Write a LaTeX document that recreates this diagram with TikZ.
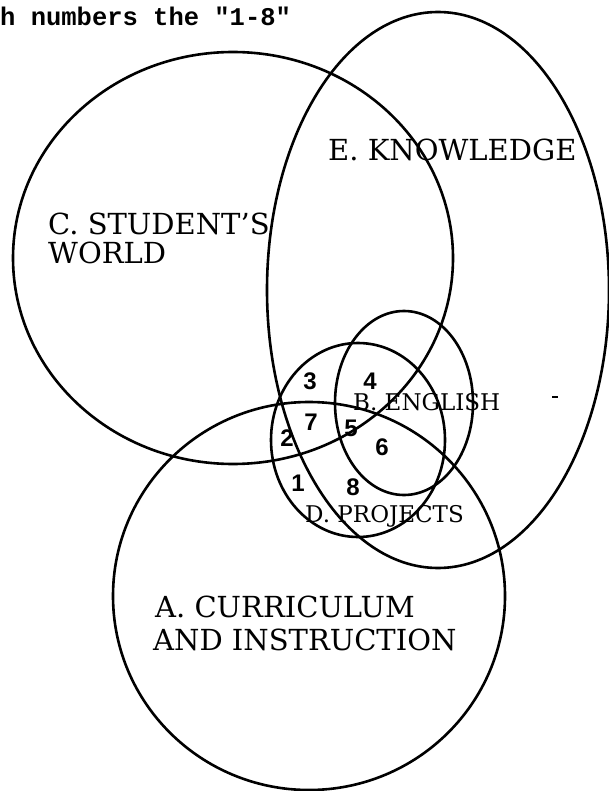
\documentclass[tikz,border=0pt]{standalone}
\usepackage{fontspec}
\setmainfont{DejaVu Serif}
\newfontfamily\numfont{Liberation Sans}
\newfontfamily\typefont{Liberation Mono}
\begin{document}
\begin{tikzpicture}[x=1pt,y=-1pt,
  setline/.style={line width=2.6pt,black},
  biglabel/.style={anchor=base west,inner sep=0pt,font=\fontsize{29}{30}\selectfont},
  midlabel/.style={anchor=base west,inner sep=0pt,font=\fontsize{23}{24}\selectfont},
  numlabel/.style={anchor=center,inner sep=0pt,font=\numfont\bfseries\fontsize{24}{24}\selectfont},
  toptext/.style={anchor=base west,inner sep=0pt,font=\typefont\bfseries\fontsize{25.5}{26}\selectfont}]
\useasboundingbox (0,0) rectangle (609,791);
\clip (0,0) rectangle (609,791);
\fill[white] (0,0) rectangle (609,791);
% sets
\draw[setline] (233,258) ellipse [x radius=220pt, y radius=206pt]; % C
\draw[setline] (438,290) ellipse [x radius=171pt, y radius=278pt]; % E
\draw[setline] (309,596) ellipse [x radius=196pt, y radius=194pt]; % A
\draw[setline] (358,440) ellipse [x radius=87pt, y radius=97pt];   % D
\draw[setline] (404,403) ellipse [x radius=69pt, y radius=92pt];   % B
% stray mark
\draw[line width=2pt] (552,397) -- (558,397);
% texts
\node[toptext] (top) at (0,26) {h numbers the "1-8"};
\node[biglabel] (lblE) at (328,161) {E. KNOWLEDGE};
\node[biglabel] (lblC1) at (48,235) {C. STUDENT'S};
\node[biglabel] (lblC2) at (48,263) {WORLD};
\node[biglabel] (lblA1) at (155,617) {A. CURRICULUM};
\node[biglabel] (lblA2) at (153,650) {AND INSTRUCTION};
\node[midlabel] (lblB) at (353,410) {B. ENGLISH};
\node[midlabel] (lblD) at (305,522) {D. PROJECTS};
\node[numlabel] (n3) at (310,381) {3};
\node[numlabel] (n4) at (370,381) {4};
\node[numlabel] (n7) at (311,422) {7};
\node[numlabel] (n5) at (351,428) {5};
\node[numlabel] (n2) at (287,438) {2};
\node[numlabel] (n6) at (382,447) {6};
\node[numlabel] (n1) at (298,483) {1};
\node[numlabel] (n8) at (353,487) {8};
\end{tikzpicture}
\end{document}
